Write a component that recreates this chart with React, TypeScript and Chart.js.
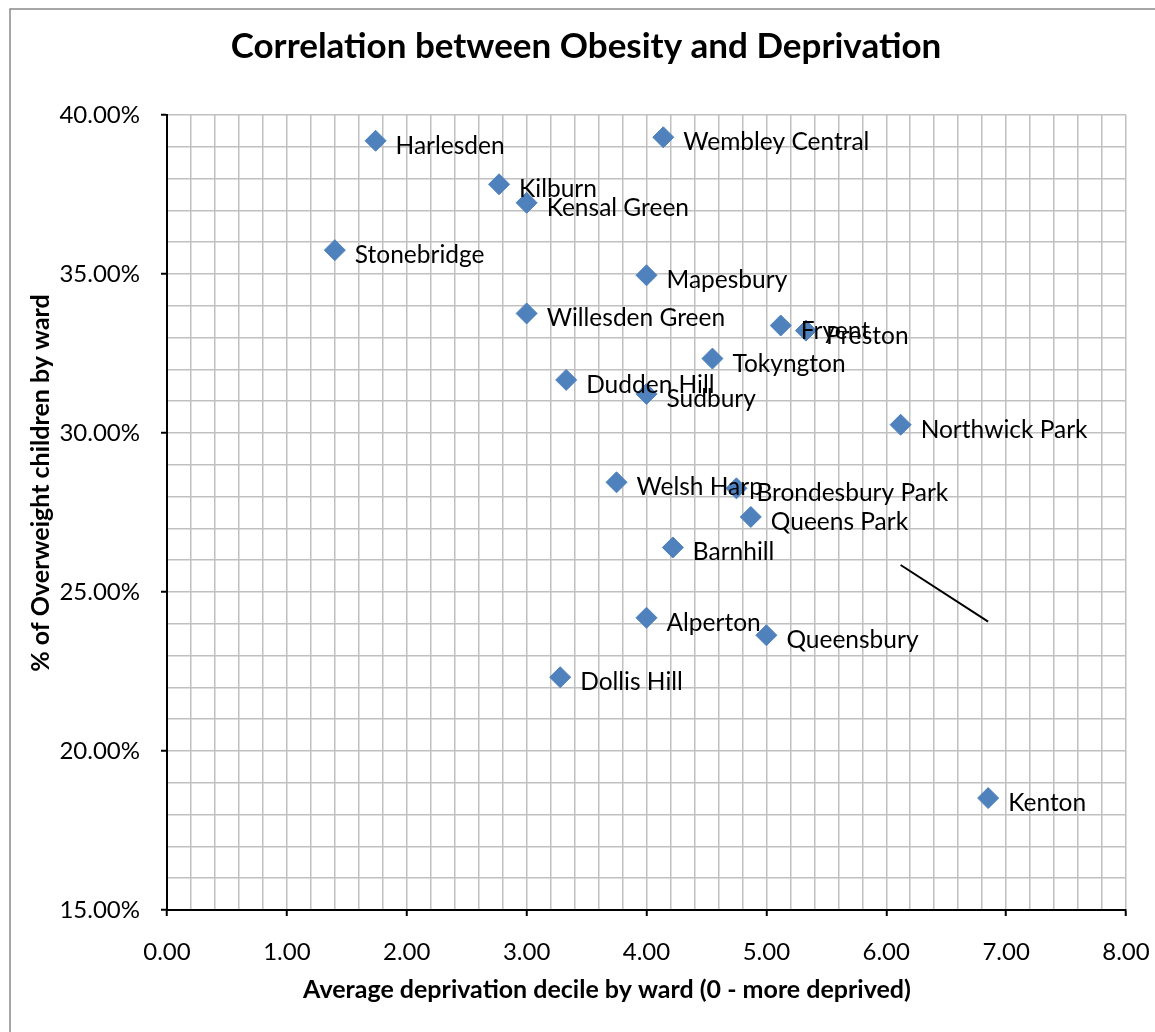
import React, { useEffect, useRef } from "react";
import { Chart, registerables } from "chart.js";

Chart.register(...registerables);

// Ward names with their average deprivation decile and share of overweight children
const wards = [
  "Harlesden",
  "Wembley Central",
  "Kilburn",
  "Kensal Green",
  "Stonebridge",
  "Mapesbury",
  "Willesden Green",
  "Fryent",
  "Preston",
  "Tokyngton",
  "Dudden Hill",
  "Sudbury",
  "Northwick Park",
  "Welsh Harp",
  "Brondesbury Park",
  "Queens Park",
  "Barnhill",
  "Alperton",
  "Queensbury",
  "Dollis Hill",
  "Kenton",
];
const deprivationDecile = [
  1.74, 4.14, 2.77, 3.0, 1.4, 4.0, 3.0, 5.12, 5.33, 4.55, 3.33, 4.0, 6.12, 3.75,
  4.75, 4.87, 4.22, 4.0, 5.0, 3.28, 6.85,
];
const overweightPct = [
  39.19, 39.3, 37.82, 37.24, 35.75, 34.96, 33.76, 33.38, 33.22, 32.34, 31.67,
  31.23, 30.26, 28.45, 28.26, 27.36, 26.4, 24.19, 23.64, 22.32, 18.52,
];

// Hand-drawn connector stroke near Kenton (data units)
const connectorX = [6.12, 6.85];
const connectorY = [25.85, 24.07];

// Axis ranges
const xRange = [0, 8];
const yRange = [15, 40];

const chartTitle = "Correlation between Obesity and Deprivation";
const xTitle = "Average deprivation decile by ward (0 - more deprived)";
const yTitle = "% of Overweight children by ward";

const FONT = "Lato, 'Open Sans', sans-serif";
const W = 1155;
const H = 1032;

const isMultiple = (v: number, m: number) =>
  Math.abs(v / m - Math.round(v / m)) < 1e-6;

const framePlugin = {
  id: "frame",
  beforeDraw(chart: any) {
    const ctx = chart.ctx;
    ctx.save();
    ctx.fillStyle = "#ffffff";
    ctx.fillRect(0, 0, chart.width, chart.height);
    ctx.strokeStyle = "#898989";
    ctx.lineWidth = 1.5;
    ctx.beginPath();
    ctx.moveTo(10, chart.height);
    ctx.lineTo(10, 9);
    ctx.lineTo(chart.width, 9);
    ctx.stroke();
    ctx.restore();
  },
};

const textPlugin = {
  id: "texts",
  afterDatasetsDraw(chart: any) {
    const ctx = chart.ctx;
    const meta = chart.getDatasetMeta(0);
    ctx.save();
    ctx.fillStyle = "#000";
    ctx.font = `24.5px ${FONT}`;
    ctx.textAlign = "left";
    ctx.textBaseline = "alphabetic";
    meta.data.forEach((pt: any, i: number) => {
      ctx.fillText(wards[i], pt.x + 20, pt.y + 13);
    });
    ctx.restore();
  },
  afterDraw(chart: any) {
    const ctx = chart.ctx;
    ctx.save();
    ctx.fillStyle = "#000";
    ctx.textAlign = "center";
    ctx.textBaseline = "middle";
    ctx.font = `bold 35px ${FONT}`;
    ctx.fillText(chartTitle, 586, 47);
    ctx.font = `bold 25px ${FONT}`;
    ctx.fillText(xTitle, 607, 990);
    ctx.translate(41, 483);
    ctx.rotate(-Math.PI / 2);
    ctx.fillText(yTitle, 0, 0);
    ctx.restore();
  },
};

export default function App() {
  const ref = useRef<HTMLCanvasElement | null>(null);

  useEffect(() => {
    document.body.style.margin = "0";
    const canvas = ref.current;
    if (!canvas) return;
    const chart = new Chart(canvas, {
      type: "scatter",
      data: {
        datasets: [
          {
            label: "Wards",
            data: deprivationDecile.map((x, i) => ({ x, y: overweightPct[i] })),
            pointStyle: "rectRot",
            pointRadius: 10.5,
            pointHoverRadius: 10.5,
            backgroundColor: "#4F81BD",
            borderColor: "#4F81BD",
            borderWidth: 1,
          },
          {
            label: "Connector",
            data: connectorX.map((x, i) => ({ x, y: connectorY[i] })),
            showLine: true,
            borderColor: "#000",
            borderWidth: 2,
            pointRadius: 0,
            fill: false,
          },
        ],
      },
      options: {
        animation: false,
        responsive: false,
        maintainAspectRatio: false,
        layout: { padding: { top: 115, right: 29, bottom: 0, left: 0 } },
        plugins: {
          legend: { display: false },
          title: { display: false },
          tooltip: { enabled: false },
        },
        scales: {
          x: {
            type: "linear",
            min: xRange[0],
            max: xRange[1],
            afterFit: (s: any) => {
              s.height = 122;
              s.paddingLeft = 0;
              s.paddingRight = 0;
            },
            border: { color: "#000", width: 2 },
            grid: {
              color: "#C0C0C0",
              lineWidth: 1.5,
              tickLength: 6,
              tickWidth: 2,
              tickColor: (c: any) =>
                c.tick && isMultiple(c.tick.value, 1) ? "#000" : "rgba(0,0,0,0)",
            },
            ticks: {
              stepSize: 0.2,
              autoSkip: false,
              maxRotation: 0,
              minRotation: 0,
              padding: 22,
              color: "#000",
              font: { family: FONT, size: 24 },
              callback: (v: any) =>
                isMultiple(Number(v), 1) ? Number(v).toFixed(2) : "",
            },
          },
          y: {
            type: "linear",
            min: yRange[0],
            max: yRange[1],
            afterFit: (s: any) => {
              s.width = 167;
              s.paddingTop = 0;
              s.paddingBottom = 0;
            },
            border: { color: "#000", width: 2 },
            grid: {
              color: "#C0C0C0",
              lineWidth: 1.5,
              tickLength: 6,
              tickWidth: 2,
              tickColor: (c: any) =>
                c.tick && isMultiple(c.tick.value, 5) ? "#000" : "rgba(0,0,0,0)",
            },
            ticks: {
              stepSize: 1,
              autoSkip: false,
              padding: 21,
              color: "#000",
              font: { family: FONT, size: 24 },
              callback: (v: any) =>
                isMultiple(Number(v), 5) ? Number(v).toFixed(2) + "%" : "",
            },
          },
        },
      },
      plugins: [framePlugin, textPlugin],
    });
    return () => chart.destroy();
  }, []);

  return (
    <div style={{ width: W, height: H, position: "relative" }}>
      <canvas ref={ref} width={W} height={H} style={{ display: "block" }} />
    </div>
  );
}
